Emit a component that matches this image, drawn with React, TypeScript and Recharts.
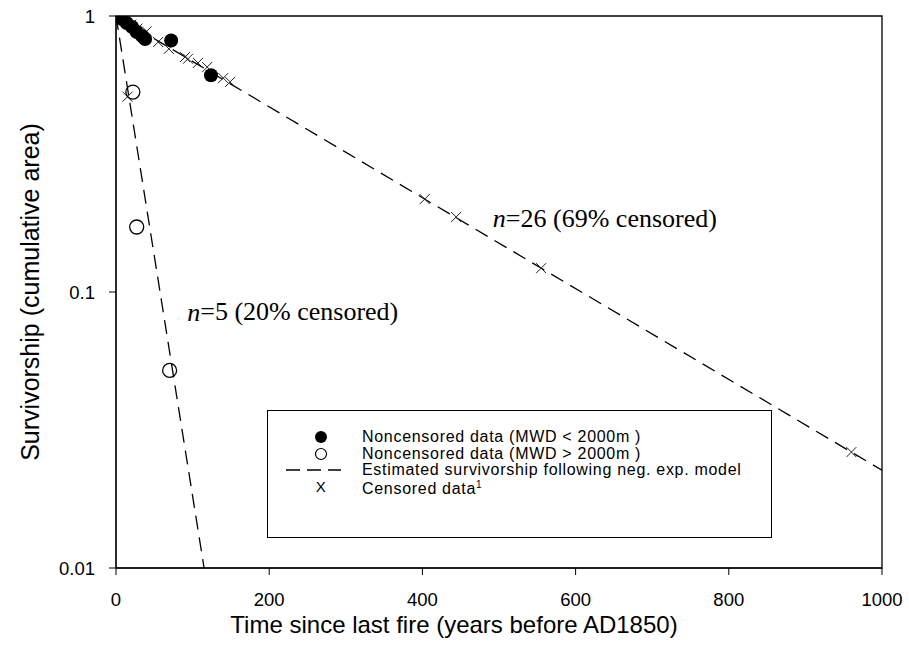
import {
  ComposedChart,
  Line,
  ReferenceArea,
  ReferenceDot,
  Scatter,
  XAxis,
  YAxis,
} from 'recharts'

const SANS = '"Liberation Sans", Arial, sans-serif'
const SERIF = '"Liberation Serif", "Times New Roman", serif'

// noncensored, MWD < 2000 m
const smallYears = [8, 14, 21, 27, 34, 38, 72, 124]
const smallSurv = [0.975, 0.943, 0.912, 0.875, 0.846, 0.825, 0.815, 0.61]

// noncensored, MWD > 2000 m
const largeYears = [0, 22, 27, 70]
const largeSurv = [1, 0.53, 0.172, 0.052]

// censored fires (sit on the fitted lines)
const censYears = [15, 20, 28, 40, 55, 69, 90, 94, 107, 119, 140, 149, 403, 444, 555, 960]
const censSurv = [0.51, 0.93, 0.9, 0.88, 0.805, 0.76, 0.71, 0.7, 0.676, 0.653, 0.596, 0.577, 0.217, 0.187, 0.122, 0.0263]

// neg. exp. model lines (straight on log axis, so two ends are enough)
const modelAYears = [0, 1000]
const modelASurv = [1, 0.0226]
const modelBYears = [0, 115]
const modelBSurv = [1, 0.01]

const xTicks = [0, 200, 400, 600, 800, 1000]
const yTicks = [0.01, 0.1, 1]

const zip = (xs: number[], ys: number[]) => xs.map((t, i) => ({ t, s: ys[i] }))

const smallPts = zip(smallYears, smallSurv)
const largePts = zip(largeYears, largeSurv)
const censPts = zip(censYears, censSurv)
const modelA = zip(modelAYears, modelASurv)
const modelB = zip(modelBYears, modelBSurv)

const FilledDot = (p: any) => <circle cx={p.cx} cy={p.cy} r={7} fill="#000" />
const OpenDot = (p: any) => (
  <circle cx={p.cx} cy={p.cy} r={7} fill="none" stroke="#000" strokeWidth={1.3} />
)
const Cross = (p: any) => (
  <g stroke="#222" strokeWidth={1}>
    <line x1={p.cx - 5} y1={p.cy - 5} x2={p.cx + 5} y2={p.cy + 5} />
    <line x1={p.cx - 5} y1={p.cy + 5} x2={p.cx + 5} y2={p.cy - 5} />
  </g>
)

function nLabel(n: string, rest: string) {
  return ({ viewBox }: any) => (
    <text
      x={viewBox.x}
      y={viewBox.y}
      dominantBaseline="central"
      fontFamily={SERIF}
      fontSize={26}
      fill="#000"
    >
      <tspan fontStyle="italic">n</tspan>
      {`=${n} ${rest}`}
    </text>
  )
}

const legendRows = [
  { kind: 'filled', text: 'Noncensored data (MWD < 2000m )' },
  { kind: 'open', text: 'Noncensored data (MWD > 2000m )' },
  { kind: 'dash', text: 'Estimated survivorship following neg. exp. model' },
  { kind: 'x', text: 'Censored data' },
]

function LegendBox() {
  return (
    <div
      style={{
        position: 'absolute',
        left: 267,
        top: 410,
        width: 505,
        height: 128,
        border: '1px solid #000',
        boxSizing: 'border-box',
        background: '#fff',
        fontFamily: SANS,
        fontSize: 16,
        letterSpacing: '0.7px',
        paddingTop: 18,
      }}
    >
      {legendRows.map((r) => (
        <div key={r.text} style={{ display: 'flex', alignItems: 'center', height: 16.5 }}>
          <svg width={94} height={16} style={{ flex: 'none' }}>
            {r.kind === 'filled' && <circle cx={53} cy={8} r={6} fill="#000" />}
            {r.kind === 'open' && (
              <circle cx={53} cy={8} r={5.5} fill="none" stroke="#000" strokeWidth={1.2} />
            )}
            {r.kind === 'dash' && (
              <line x1={18} y1={8} x2={73} y2={8} stroke="#000" strokeWidth={1.3} strokeDasharray="14 7" />
            )}
            {r.kind === 'x' && (
              <text x={53} y={13} textAnchor="middle" fontFamily={SANS} fontSize={15}>
                X
              </text>
            )}
          </svg>
          <span style={{ whiteSpace: 'nowrap', lineHeight: '16px' }}>
            {r.text}
            {r.kind === 'x' && <sup style={{ fontSize: 10 }}>1</sup>}
          </span>
        </div>
      ))}
    </div>
  )
}

export default function App() {
  const tickStyle = { fontSize: 18.5, fill: '#000', fontFamily: SANS }
  return (
    <div style={{ position: 'absolute', left: 0, top: 0, width: 909, height: 658, background: '#fff' }}>
      <ComposedChart width={909} height={658} margin={{ top: 16, right: 27, bottom: 10, left: 0 }}>
        <XAxis
          type="number"
          dataKey="t"
          domain={[0, 1000]}
          ticks={xTicks}
          allowDataOverflow
          stroke="#000"
          tickSize={7}
          tickMargin={18}
          tick={tickStyle}
          height={80}
          label={({ viewBox }: any) => (
            <text
              x={viewBox.x + viewBox.width / 2 - 45}
              y={viewBox.y + 56}
              textAnchor="middle"
              dominantBaseline="central"
              fontFamily={SANS}
              fontSize={24}
              fill="#000"
            >
              Time since last fire (years before AD1850)
            </text>
          )}
        />
        <YAxis
          type="number"
          dataKey="s"
          scale="log"
          domain={[0.01, 1]}
          ticks={yTicks}
          allowDataOverflow
          stroke="#000"
          tickSize={7}
          tickMargin={14}
          tick={tickStyle}
          width={116}
          label={({ viewBox }: any) => {
            const cx = 30
            const cy = viewBox.y + viewBox.height / 2
            return (
              <text
                x={cx}
                y={cy}
                transform={`rotate(-90, ${cx}, ${cy})`}
                textAnchor="middle"
                dominantBaseline="central"
                fontFamily={SANS}
                fontSize={25}
                fill="#000"
              >
                Survivorship (cumulative area)
              </text>
            )
          }}
        />
        <ReferenceArea x1={0} x2={1000} y1={0.01} y2={1} fill="none" stroke="#000" strokeWidth={1.3} fillOpacity={0} />
        <Line data={modelA} dataKey="s" type="linear" stroke="#000" strokeWidth={1.3} strokeDasharray="14 8" dot={false} isAnimationActive={false} />
        <Line data={modelB} dataKey="s" type="linear" stroke="#000" strokeWidth={1.3} strokeDasharray="14 8" dot={false} isAnimationActive={false} />
        <Scatter data={censPts} dataKey="s" shape={Cross} isAnimationActive={false} />
        <Scatter data={smallPts} dataKey="s" shape={FilledDot} isAnimationActive={false} />
        <Scatter data={largePts} dataKey="s" shape={OpenDot} isAnimationActive={false} />
        <ReferenceDot x={492} y={0.185} r={0} label={nLabel('26', '(69% censored)')} />
        <ReferenceDot x={93} y={0.0847} r={0} label={nLabel('5', '(20% censored)')} />
      </ComposedChart>
      <LegendBox />
    </div>
  )
}
